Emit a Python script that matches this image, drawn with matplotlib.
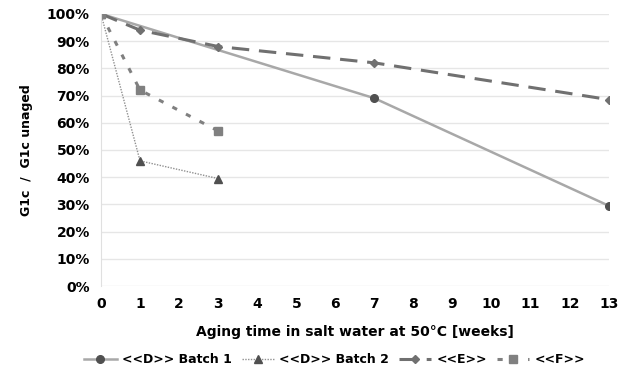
import matplotlib.pyplot as plt
from matplotlib.ticker import PercentFormatter

# data (weeks, G1c ratio in %)
weeks_b1 = [0, 7, 13]
batch1 = [100, 69, 29.5]
weeks_b2 = [0, 1, 3]
batch2 = [100, 46, 39.5]
weeks_e = [0, 1, 3, 7, 13]
series_e = [100, 94, 88, 82, 68.5]
weeks_f = [0, 1, 3]
series_f = [100, 72, 57]

fig = plt.figure(figsize=(6.27, 3.74), dpi=100)
ax = fig.add_axes([0.161, 0.235, 0.81, 0.728])

ax.plot(weeks_b1, batch1, color="#a8a8a8", lw=1.8, marker="o", ms=5.5,
        mfc="#505050", mec="#505050", label="<<D>> Batch 1")
ax.plot(weeks_b2, batch2, color="#909090", lw=1, ls=(0, (1, 1)), marker="^", ms=6,
        mfc="#505050", mec="#505050", label="<<D>> Batch 2")
ax.plot(weeks_e, series_e, color="#707070", lw=2.2, ls=(0, (5.7, 3.2)), marker="D", ms=4,
        mfc="#707070", mec="#707070", label="<<E>>")
ax.plot(weeks_f, series_f, color="#808080", lw=2.2, ls=(0, (1.7, 3.3)), marker="s", ms=6,
        mfc="#808080", mec="#808080", label="<<F>>")

ax.set_xlim(0, 13)
ax.set_ylim(0, 100)
ax.set_xticks(range(0, 14))
ax.set_yticks(range(0, 101, 10))
ax.yaxis.set_major_formatter(PercentFormatter(decimals=0))
ax.grid(axis="y", color="#e6e6e6", lw=1)
ax.set_axisbelow(True)
for s in ["top", "right", "bottom"]:
    ax.spines[s].set_visible(False)
ax.spines["left"].set_color("#e0e0e0")
ax.tick_params(length=0, labelsize=10, pad=8)
for lab in ax.get_xticklabels() + ax.get_yticklabels():
    lab.set_fontweight("bold")

ax.set_xlabel("Aging time in salt water at 50°C [weeks]", fontsize=10, fontweight="bold", labelpad=10)
ax.set_ylabel("G1c  /  G1c unaged", fontsize=9, fontweight="bold", labelpad=10)

leg = ax.legend(loc="upper center", bbox_to_anchor=(0.46, -0.205), ncol=4, frameon=False,
                prop={"weight": "bold", "size": 9}, handlelength=2.6, columnspacing=0.8,
                handletextpad=0.4)

fig.savefig("out.png", dpi=100)
